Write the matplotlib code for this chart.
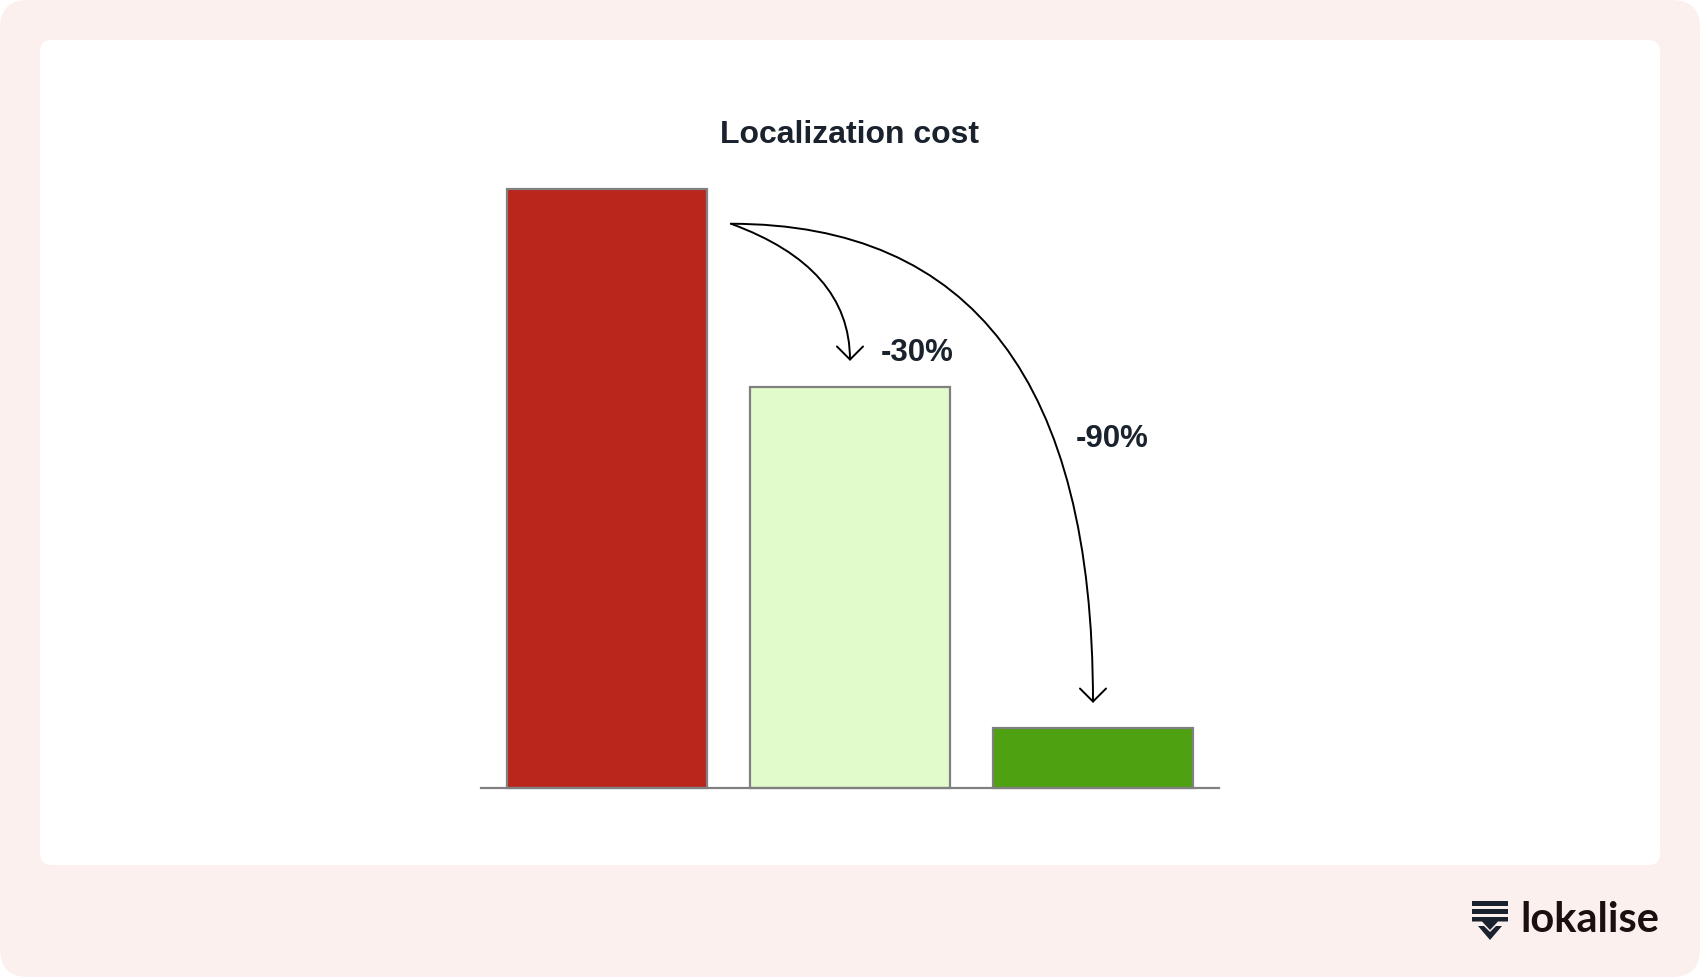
import matplotlib.pyplot as plt
from matplotlib.patches import FancyBboxPatch, Polygon

# chart data
categories = ['Before', 'With TM', 'With AI']
costs = [100, 67, 10]
bar_colors = ['#BA261C', '#E2FBCB', '#4EA111']
change_labels = ['-30%', '-90%']

W, H = 1700, 977
fig = plt.figure(figsize=(W / 100, H / 100), dpi=100)
fig.patch.set_facecolor('white')

# page background: pink frame + white card
bg = fig.add_axes([0, 0, 1, 1])
bg.set_xlim(0, W)
bg.set_ylim(H, 0)
bg.axis('off')
bg.add_patch(FancyBboxPatch((0, 0), W, H, boxstyle='round,pad=0,rounding_size=28',
                            fc='#FCF0EE', ec='none'))
bg.add_patch(FancyBboxPatch((40, 40), W - 80, 825, boxstyle='round,pad=0,rounding_size=12',
                            fc='white', ec='none'))

# lokalise logo
navy = '#1A222D'
for y in [901, 909]:
    bg.add_patch(Polygon([(1472, y), (1508, y), (1508, y + 4.5), (1472, y + 4.5)], fc=navy, ec='none'))
bg.add_patch(Polygon([(1472, 917), (1508, 917), (1508, 921.5), (1498, 921.5), (1490, 930),
                      (1482, 921.5), (1472, 921.5)], fc=navy, ec='none'))
bg.add_patch(Polygon([(1478, 926), (1484, 926), (1490, 932), (1496, 926), (1502, 926),
                      (1490, 940)], fc=navy, ec='none'))
bg.text(1590, 932, 'lokalise', ha='center', va='baseline', fontsize=30,
        family='Lato', weight='bold', color='#1C0F0F')

# bar chart
ax = fig.add_axes([481 / W, 189 / H, (1219 - 481) / W, (788 - 189) / H])
ax.set_xlim(-0.5185, 2.5185)
ax.set_ylim(0, 100)
ax.patch.set_alpha(0)
x = range(len(categories))
ax.bar(x, costs, width=0.823, color=bar_colors, edgecolor='#808080', linewidth=1.6,
       clip_on=False, zorder=2)
for s in ['top', 'right', 'left']:
    ax.spines[s].set_visible(False)
ax.spines['bottom'].set_color('#808080')
ax.spines['bottom'].set_linewidth(1.6)
ax.set_xticks([])
ax.set_yticks([])

fig.text(0.5, 1 - 135 / H, 'Localization cost', ha='center', va='center',
         fontsize=23, weight='bold', family='Liberation Sans', color=navy)

# arrows showing the reductions
arrow = dict(arrowstyle='->,head_length=0.47,head_width=0.47', color='black', lw=1.4,
             mutation_scale=20, shrinkA=0, shrinkB=0)
ax.annotate('', xy=(1.0, 71.3), xytext=(0.51, 94.2),
            arrowprops=dict(connectionstyle='angle3,angleA=-20,angleB=90', **arrow),
            annotation_clip=False)
ax.annotate('', xy=(2.0, 14.2), xytext=(0.51, 94.2),
            arrowprops=dict(connectionstyle='angle3,angleA=0,angleB=90', **arrow),
            annotation_clip=False)

ax.text(1.276, 72.6, change_labels[0], ha='center', va='center', fontsize=22.5,
        weight='bold', family='Liberation Sans', color=navy)
ax.text(2.08, 58.3, change_labels[1], ha='center', va='center', fontsize=22.5,
        weight='bold', family='Liberation Sans', color=navy)

fig.savefig('out.png', dpi=100)
